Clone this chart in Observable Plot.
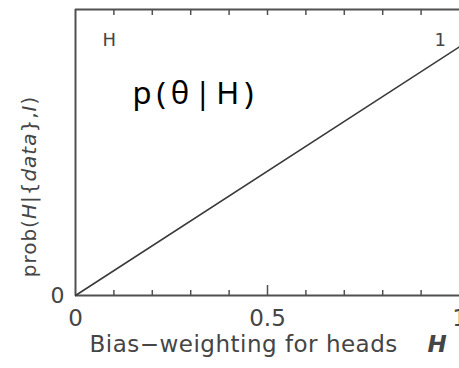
<!DOCTYPE html>
<html>
<head>
<meta charset="utf-8">
<script src="https://cdn.jsdelivr.net/npm/d3@7"></script>
<script src="https://cdn.jsdelivr.net/npm/@observablehq/plot@0.6"></script>
<style>
  body { margin: 0; background: #fff; }
  #chart svg { display: block; }
</style>
</head>
<body>
<div id="chart"></div>
<script>
// Posterior for the bias-weighting H after a single head: a straight line from 0 to 1
const biasH = [0, 1];
const posterior = [0, 1];
const yTop = 1.15;

// Tick positions and labels on the H axis
const minorTicks = [0.1, 0.2, 0.3, 0.4, 0.6, 0.7, 0.8, 0.9];
const majorTicks = [0.5];
const labelTicks = [0, 0.5, 1];
const labelText = ["0", "0.5", "1"];

// Text drawn in and around the frame
const cornerLeft = "H";
const cornerRight = "1";
const title = "p(θ|H)";
const xTitle = "Bias\u2212weighting for heads";
const xTitleVar = "H";
const yTitle = "prob(H|{data},I)";

const W = 459, H = 368;
const mTop = 9, mBottom = 73, mLeft = 75, mRight = 0;
const innerH = H - mTop - mBottom;

const ink = "#454545";
const axisInk = "#505050";
const font = "DejaVu Sans, Verdana, sans-serif";

const data = biasH.map((h, i) => ({h, p: posterior[i]}));

const chart = Plot.plot({
  width: W,
  height: H,
  marginTop: mTop,
  marginBottom: mBottom,
  marginLeft: mLeft,
  marginRight: mRight,
  style: {fontFamily: font, background: "#fff", color: ink},
  x: {domain: [0, 1]},
  y: {domain: [0, yTop], axis: null},
  marks: [
    // frame: bottom, left and top edges
    Plot.ruleY([0], {stroke: axisInk, strokeWidth: 2}),
    Plot.ruleX([0], {stroke: axisInk, strokeWidth: 2}),
    Plot.ruleY([yTop], {stroke: axisInk, strokeWidth: 2}),
    // inward ticks on the bottom edge
    Plot.ruleX(minorTicks, {stroke: axisInk, strokeWidth: 1.5, insetTop: innerH - 5}),
    Plot.ruleX(majorTicks, {stroke: axisInk, strokeWidth: 1.5, insetTop: innerH - 10}),
    // inward ticks on the top edge
    Plot.ruleX([...minorTicks, ...majorTicks], {stroke: axisInk, strokeWidth: 1.5, insetBottom: innerH - 6}),
    // tick labels along H
    Plot.axisX(labelTicks, {
      tickSize: 0,
      tickPadding: 14,
      tickFormat: (d, i) => labelText[i],
      fontSize: 23,
      fill: ink,
      label: null
    }),
    // zero label on the probability axis
    Plot.text([0], {x: 0, y: 0, text: () => "0", dx: -18, fontSize: 22, fill: ink}),
    // the posterior
    Plot.line(data, {x: "h", y: "p", stroke: "#3a3a3a", strokeWidth: 1.6}),
    // corner markers
    Plot.text([cornerLeft], {frameAnchor: "top-left", dx: 27, dy: 24, fontSize: 18, fill: ink}),
    Plot.text([cornerRight], {frameAnchor: "top-left", dx: 359, dy: 24, fontSize: 18, fill: ink}),
    // headline formula
    Plot.text([title], {
      frameAnchor: "top-left", dx: 57, dy: 94, textAnchor: "start", lineAnchor: "bottom",
      fontSize: 31, fill: "#000", fontFamily: "Noto Sans, Open Sans, sans-serif"
    }),
    // axis titles
    Plot.text([xTitle], {frameAnchor: "bottom-left", dx: 14, dy: 56, textAnchor: "start", fontSize: 23, fill: ink}),
    Plot.text([xTitleVar], {frameAnchor: "bottom-left", dx: 352, dy: 56, textAnchor: "start", fontSize: 23, fill: ink, fontStyle: "italic", fontWeight: "bold"}),
    Plot.text([yTitle], {frameAnchor: "left", textAnchor: "middle", rotate: -90, dx: -46, dy: 34, fontSize: 20, fill: ink})
  ]
});

// Letter spacing and italic variable names, applied to the drawn text elements
d3.select(chart).selectAll("text").each(function () {
  const el = d3.select(this);
  const s = el.text();
  if (s === title) el.attr("letter-spacing", 5);
  if (s === xTitle) el.attr("letter-spacing", 0.5);
  if (s === yTitle) {
    el.attr("letter-spacing", 1).text(null);
    const parts = [["prob(", false], ["H", true], ["|{", false], ["data", true], ["},", false], ["I", true], [")", false]];
    for (const [t, it] of parts) el.append("tspan").text(t).attr("font-style", it ? "italic" : null);
  }
});

document.getElementById("chart").append(chart);
</script>
</body>
</html>
